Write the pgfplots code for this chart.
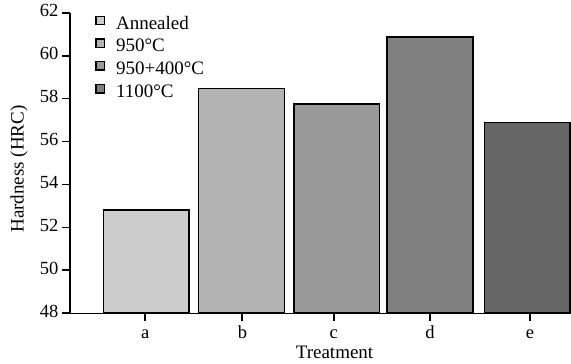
\documentclass[border=0pt]{standalone}
\usepackage{fontspec}
\setmainfont{Liberation Serif}
\usepackage{pgfplots}
\pgfplotsset{compat=1.18}
\definecolor{ca}{HTML}{CCCCCC}
\definecolor{cb}{HTML}{B3B3B3}
\definecolor{cc}{HTML}{999999}
\definecolor{cd}{HTML}{808080}
\definecolor{ce}{HTML}{666666}
\pgfplotsset{
  mybar/.style={ybar, bar width=0.9, bar shift=0pt, draw=black, line width=1.6pt,
    legend image code/.code={\draw[##1, line width=1.4pt] (0pt,0pt) rectangle (8.5pt,8.5pt);}},
}
\begin{document}
\begin{tikzpicture}[font=\fontsize{18}{21}\selectfont]
\begin{axis}[
  at={(0,0)}, anchor=south west,
  scale only axis, width=501pt, height=300.6pt,
  xmin=-0.8, xmax=4.46, ymin=48, ymax=62,
  axis lines*=left,
  axis line style={line width=1.5pt, black},
  ytick={48,50,...,62},
  xtick={-0.01,1.01,1.97,2.98,4.03},
  xticklabels={a,b,c,d,e},
  tick align=outside, major tick length=7.5pt,
  tick style={line width=1.8pt, black},
  /pgf/number format/assume math mode=true,
  tick label style={font=\fontsize{18.5}{21}\selectfont},
  typeset ticklabels with strut,
  yticklabel style={inner sep=0pt, xshift=-4pt},
  xticklabel style={inner sep=0pt, yshift=-3pt},
  ylabel={Hardness (HRC)},
  ylabel style={at={(axis description cs:-0.1018,0.48)}, anchor=center, font=\fontsize{19}{21}\selectfont},
  xlabel={Treatment},
  xlabel style={at={(axis description cs:0.528,-0.152)}, anchor=base, font=\fontsize{19}{21}\selectfont},
  legend cell align=left,
  legend style={draw=none, fill=none, inner sep=0pt,
    at={(axis description cs:0.0499,0.9913)}, anchor=north west,
    row sep=5pt, column sep=11pt,
    font=\fontsize{19}{21}\selectfont,
    nodes={inner sep=0pt, text height=13pt, text depth=4pt}},
]
\addplot[mybar, fill=ca] coordinates {(0,52.81)};
\addplot[mybar, fill=cb] coordinates {(1,58.47)};
\addplot[mybar, fill=cc] coordinates {(2,57.75)};
\addplot[mybar, fill=cd] coordinates {(2.98,60.88)};
\addplot[mybar, fill=ce] coordinates {(4,56.88)};
\legend{Annealed,950°C,950+400°C,1100°C}
\end{axis}
\pgfresetboundingbox
\useasboundingbox (-70pt,-50.7pt) rectangle (501pt,313.3pt);
\end{tikzpicture}
\end{document}
